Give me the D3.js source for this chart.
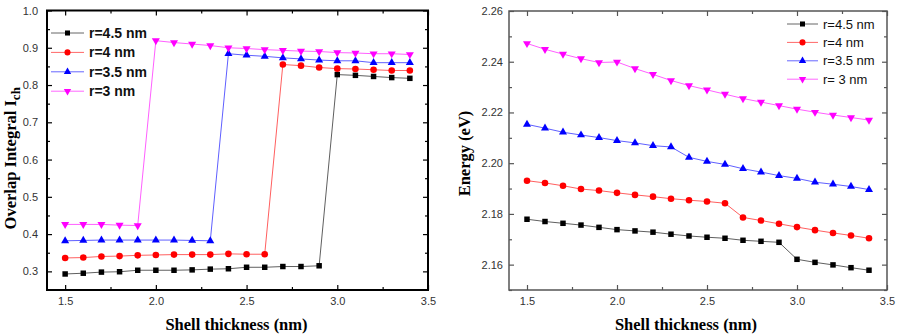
<!DOCTYPE html>
<html>
  <head>
    <title>Overlap integral and energy vs shell thickness</title>
    <script src="https://cdn.jsdelivr.net/npm/d3@7/dist/d3.min.js"></script>
    <style>
      body { margin: 0; background: #fff; }
      .tick text { font-family: "Liberation Sans", Arial, sans-serif; font-size: 11px; fill: #333; }
      .axis-title { font-family: "Liberation Serif", "Times New Roman", serif; font-weight: bold; font-size: 16.5px; }
    </style>
  </head>

  <body>
    <svg width="898" height="336"></svg>

    <script type="text/javascript">
      // shell thickness (nm)
      var thickness = [1.5, 1.6, 1.7, 1.8, 1.9, 2.0, 2.1, 2.2, 2.3, 2.4, 2.5, 2.6, 2.7, 2.8, 2.9, 3.0, 3.1, 3.2, 3.3, 3.4];

      var seriesNames = ["r=4.5 nm", "r=4 nm", "r=3.5 nm", "r=3 nm"];
      var seriesNamesRight = ["r=4.5 nm", "r=4 nm", "r=3.5 nm", "r= 3 nm"];
      var seriesColors = ["#000000", "#ff0000", "#0000ff", "#ff00ff"];

      // overlap integral I_ch
      var overlap45 = [0.293, 0.295, 0.298, 0.299, 0.303, 0.303, 0.303, 0.304, 0.306, 0.307, 0.311, 0.311, 0.313, 0.313, 0.315, 0.828, 0.826, 0.823, 0.820, 0.818];
      var overlap4 = [0.336, 0.337, 0.340, 0.341, 0.343, 0.344, 0.345, 0.345, 0.345, 0.347, 0.346, 0.346, 0.855, 0.852, 0.847, 0.844, 0.843, 0.841, 0.839, 0.839];
      var overlap35 = [0.382, 0.383, 0.384, 0.384, 0.384, 0.384, 0.384, 0.383, 0.382, 0.884, 0.880, 0.877, 0.873, 0.870, 0.867, 0.865, 0.865, 0.860, 0.860, 0.860];
      var overlap3 = [0.426, 0.426, 0.426, 0.424, 0.423, 0.919, 0.914, 0.910, 0.906, 0.900, 0.898, 0.895, 0.893, 0.891, 0.890, 0.887, 0.886, 0.884, 0.884, 0.882];

      // energy (eV)
      var energy45 = [2.1779, 2.1770, 2.1763, 2.1756, 2.1747, 2.1738, 2.1733, 2.1728, 2.1720, 2.1713, 2.1708, 2.1704, 2.1696, 2.1692, 2.1688, 2.1621, 2.1609, 2.1599, 2.1588, 2.1578];
      var energy4 = [2.1931, 2.1922, 2.1911, 2.1898, 2.1892, 2.1883, 2.1875, 2.1868, 2.1860, 2.1854, 2.1849, 2.1842, 2.1786, 2.1774, 2.1761, 2.1748, 2.1736, 2.1725, 2.1715, 2.1704];
      var energy35 = [2.2153, 2.2138, 2.2122, 2.2111, 2.2101, 2.2089, 2.2080, 2.2069, 2.2064, 2.2023, 2.2007, 2.1995, 2.1978, 2.1965, 2.1951, 2.1940, 2.1925, 2.1917, 2.1908, 2.1896];
      var energy3 = [2.2472, 2.2449, 2.2430, 2.2412, 2.2397, 2.2399, 2.2373, 2.2350, 2.2326, 2.2306, 2.2289, 2.2272, 2.2255, 2.2241, 2.2227, 2.2213, 2.2201, 2.2190, 2.2180, 2.2170];

      // tick values
      var xTicks = [1.5, 2.0, 2.5, 3.0, 3.5];
      var xMinor = [1.75, 2.25, 2.75, 3.25];
      var overlapTicks = [0.3, 0.4, 0.5, 0.6, 0.7, 0.8, 0.9, 1.0];
      var overlapMinor = [0.35, 0.45, 0.55, 0.65, 0.75, 0.85, 0.95];
      var energyTicks = [2.16, 2.18, 2.20, 2.22, 2.24, 2.26];
      var energyMinor = [2.15, 2.17, 2.19, 2.21, 2.23, 2.25];

      var symbols = [
        { type: d3.symbolSquare, size: 30, rotate: 0 },
        { type: d3.symbolCircle, size: 34, rotate: 0 },
        { type: d3.symbolTriangle, size: 28, rotate: 0 },
        { type: d3.symbolTriangle, size: 28, rotate: 180 }
      ];

      var svg = d3.select("svg");

      function drawPanel(cfg) {
        var x = d3.scaleLinear().domain([1.4, 3.5]).range([cfg.left, cfg.right]);
        var y = d3.scaleLinear().domain(cfg.yDomain).range([cfg.bottom, cfg.top]);
        var g = svg.append("g");

        function noDomain(sel) { sel.select(".domain").remove(); }

        // major + minor ticks on all four sides, pointing in
        g.append("g").attr("transform", "translate(0," + cfg.bottom + ")")
          .call(d3.axisBottom(x).tickValues(xTicks).tickFormat(d3.format(".1f")).tickSize(-5).tickPadding(7))
          .call(noDomain);
        g.append("g").attr("transform", "translate(0," + cfg.bottom + ")")
          .call(d3.axisBottom(x).tickValues(xMinor).tickFormat("").tickSize(-3)).call(noDomain);
        g.append("g").attr("transform", "translate(0," + cfg.top + ")")
          .call(d3.axisTop(x).tickValues(xTicks).tickFormat("").tickSize(-5)).call(noDomain);
        g.append("g").attr("transform", "translate(0," + cfg.top + ")")
          .call(d3.axisTop(x).tickValues(xMinor).tickFormat("").tickSize(-3)).call(noDomain);

        g.append("g").attr("transform", "translate(" + cfg.left + ",0)")
          .call(d3.axisLeft(y).tickValues(cfg.yTicks).tickFormat(d3.format(cfg.yFormat)).tickSize(-5).tickPadding(cfg.yPad))
          .call(noDomain);
        g.append("g").attr("transform", "translate(" + cfg.left + ",0)")
          .call(d3.axisLeft(y).tickValues(cfg.yMinor).tickFormat("").tickSize(-3)).call(noDomain);
        g.append("g").attr("transform", "translate(" + cfg.right + ",0)")
          .call(d3.axisRight(y).tickValues(cfg.yTicks).tickFormat("").tickSize(-5)).call(noDomain);
        g.append("g").attr("transform", "translate(" + cfg.right + ",0)")
          .call(d3.axisRight(y).tickValues(cfg.yMinor).tickFormat("").tickSize(-3)).call(noDomain);

        g.selectAll(".tick line").attr("stroke", cfg.frameColor).attr("stroke-width", 1.2);

        g.append("rect")
          .attr("x", cfg.left).attr("y", cfg.top)
          .attr("width", cfg.right - cfg.left).attr("height", cfg.bottom - cfg.top)
          .attr("fill", "none").attr("stroke", cfg.frameColor).attr("stroke-width", cfg.frameWidth);

        var line = d3.line()
          .x(function (d, i) { return x(thickness[i]); })
          .y(function (d) { return y(d); });

        cfg.series.forEach(function (values, k) {
          g.append("path")
            .datum(values)
            .attr("d", line)
            .attr("fill", "none")
            .attr("stroke", seriesColors[k])
            .attr("stroke-opacity", 0.7)
            .attr("stroke-width", 0.9);

          g.selectAll(".pt" + k)
            .data(values)
            .enter()
            .append("path")
            .attr("d", d3.symbol().type(symbols[k].type).size(symbols[k].size))
            .attr("transform", function (d, i) {
              return "translate(" + x(thickness[i]) + "," + y(d) + ") rotate(" + symbols[k].rotate + ")";
            })
            .attr("fill", seriesColors[k]);
        });

        // legend
        var leg = g.append("g");
        cfg.names.forEach(function (name, k) {
          var ly = cfg.legY + k * cfg.legStep;
          leg.append("line")
            .attr("x1", cfg.legX).attr("x2", cfg.legX + cfg.legLine)
            .attr("y1", ly).attr("y2", ly)
            .attr("stroke", seriesColors[k]).attr("stroke-opacity", 0.6).attr("stroke-width", 1);
          leg.append("path")
            .attr("d", d3.symbol().type(symbols[k].type).size(symbols[k].size * 0.85))
            .attr("transform", "translate(" + (cfg.legX + cfg.legLine / 2) + "," + ly + ") rotate(" + symbols[k].rotate + ")")
            .attr("fill", seriesColors[k]);
          leg.append("text")
            .attr("x", cfg.legX + cfg.legLine + 5).attr("y", ly)
            .attr("dy", "0.36em")
            .style("font-family", "'Liberation Sans', Arial, sans-serif")
            .style("font-size", cfg.legFont + "px")
            .style("font-weight", cfg.legBold ? "bold" : "normal")
            .style("fill", "#111")
            .text(name);
        });

        // axis titles
        g.append("text")
          .attr("class", "axis-title")
          .attr("x", (cfg.left + cfg.right) / 2 + cfg.xTitleShift)
          .attr("y", 330)
          .attr("text-anchor", "middle")
          .text("Shell thickness (nm)");

        var yt = g.append("text")
          .attr("class", "axis-title")
          .attr("text-anchor", "middle")
          .attr("transform", "translate(" + cfg.yTitleX + "," + ((cfg.top + cfg.bottom) / 2 + cfg.yTitleShift) + ") rotate(-90)");
        yt.append("tspan").text(cfg.yTitle);
        if (cfg.yTitleSub) {
          yt.append("tspan").attr("dy", 4).style("font-size", "13px").text(cfg.yTitleSub);
        }
      }

      drawPanel({
        left: 47, right: 428, top: 10.5, bottom: 290,
        yDomain: [0.25, 1.0], yTicks: overlapTicks, yMinor: overlapMinor, yFormat: ".1f", yPad: 9,
        frameColor: "#000", frameWidth: 2,
        series: [overlap45, overlap4, overlap35, overlap3],
        names: seriesNames,
        legX: 51, legY: 33, legStep: 19.4, legLine: 33, legFont: 14, legBold: true,
        yTitle: "Overlap Integral I", yTitleSub: "ch", yTitleX: 16, yTitleShift: 8,
        xTitleShift: -1
      });

      drawPanel({
        left: 509, right: 887, top: 11, bottom: 290,
        yDomain: [2.15, 2.26], yTicks: energyTicks, yMinor: energyMinor, yFormat: ".2f", yPad: 6,
        frameColor: "#555", frameWidth: 1.5,
        series: [energy45, energy4, energy35, energy3],
        names: seriesNamesRight,
        legX: 787, legY: 24, legStep: 18.4, legLine: 31, legFont: 13, legBold: false,
        yTitle: "Energy (eV)", yTitleSub: null, yTitleX: 470, yTitleShift: 3,
        xTitleShift: -12
      });
    </script>
  </body>
</html>
